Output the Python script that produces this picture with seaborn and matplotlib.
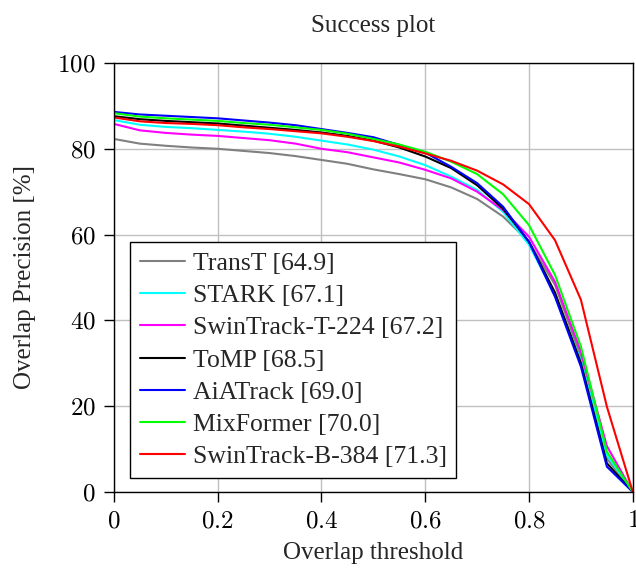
import matplotlib
matplotlib.use("Agg")
import matplotlib.pyplot as plt
import numpy as np
import pandas as pd
import seaborn as sns

thresholds = [0.0, 0.05, 0.1, 0.15, 0.2, 0.25, 0.3, 0.35, 0.4, 0.45, 0.5,
              0.55, 0.6, 0.65, 0.7, 0.75, 0.8, 0.85, 0.9, 0.95, 1.0]

trackers = ["TransT [64.9]", "STARK [67.1]", "SwinTrack-T-224 [67.2]", "ToMP [68.5]",
            "AiATrack [69.0]", "MixFormer [70.0]", "SwinTrack-B-384 [71.3]"]

transt = [82.3, 81.2, 80.7, 80.3, 80.0, 79.5, 79.0, 78.3, 77.4, 76.5, 75.2,
          74.1, 72.9, 71.0, 68.3, 64.2, 58.3, 48.3, 31.5, 7.8, 0]
stark = [86.7, 85.6, 85.1, 84.8, 84.4, 84.0, 83.5, 82.8, 81.9, 81.0, 79.8,
         78.2, 76.2, 73.5, 70.4, 65.3, 57.6, 46.0, 30.5, 8.6, 0]
swin_t = [85.8, 84.3, 83.7, 83.3, 83.0, 82.5, 82.0, 81.2, 80.0, 79.2, 78.0,
          76.8, 75.1, 73.1, 70.0, 65.7, 59.5, 49.0, 32.7, 10.7, 0]
tomp = [87.6, 86.9, 86.5, 86.2, 85.9, 85.4, 84.9, 84.4, 83.8, 83.0, 81.9,
        80.3, 78.2, 75.5, 71.5, 66.0, 58.3, 46.5, 30.0, 6.7, 0]
aiatrack = [88.6, 88.0, 87.7, 87.4, 87.1, 86.6, 86.1, 85.5, 84.6, 83.7, 82.7,
            80.9, 79.1, 75.8, 72.0, 66.5, 58.3, 45.5, 29.2, 5.9, 0]
mixformer = [88.3, 87.5, 87.1, 86.8, 86.5, 86.0, 85.6, 85.0, 84.4, 83.5, 82.3,
             81.0, 79.3, 77.0, 74.1, 69.4, 62.2, 50.6, 33.9, 9.4, 0]
swin_b = [87.3, 86.4, 86.0, 85.8, 85.5, 85.0, 84.6, 84.1, 83.6, 82.8, 81.8,
          80.5, 78.9, 77.2, 74.9, 71.7, 67.1, 58.7, 44.8, 19.9, 0]

xtick_vals = [0, 0.2, 0.4, 0.6, 0.8, 1]
xtick_labels = ["0", "0.2", "0.4", "0.6", "0.8", "1"]
ytick_vals = [0, 20, 40, 60, 80, 100]

colors = ["#808080", "#00ffff", "#ff00ff", "#000000", "#0000ff", "#00ff00", "#ff0000"]

series = [transt, stark, swin_t, tomp, aiatrack, mixformer, swin_b]
df = pd.concat([pd.DataFrame({"Threshold": thresholds, "Precision": s, "Tracker": name})
                for name, s in zip(trackers, series)])

sns.set_style("whitegrid")
plt.rcParams['font.family'] = ['Liberation Serif', 'DejaVu Serif']
plt.rcParams['mathtext.fontset'] = 'cm'

fig = plt.figure(figsize=(6.36, 5.71), dpi=100)
ax = fig.add_axes([0.179, 0.1384, 0.816, 0.7513])

sns.lineplot(data=df, x="Threshold", y="Precision", hue="Tracker", hue_order=trackers,
             palette=colors, linewidth=1.5, ax=ax)

ax.set_xlim(0, 1)
ax.set_ylim(0, 100)
ax.set_xticks(xtick_vals)
ax.set_xticklabels(["$" + t + "$" for t in xtick_labels])
ax.set_yticks(ytick_vals)
ax.set_yticklabels(["$%d$" % v for v in ytick_vals])
ax.grid(True, color="#c0c0c0", linewidth=1.0)
for sp in ax.spines.values():
    sp.set_color("black")
    sp.set_linewidth(1.0)
ax.tick_params(direction="out", length=7, width=1, colors="black", labelsize=18,
               left=True, bottom=True, pad=6)

ax.set_xlabel("Overlap threshold", fontsize=18, labelpad=7)
ax.set_ylabel("Overlap Precision [%]", fontsize=18, labelpad=15)
ax.set_title("Success plot", fontsize=18, pad=22)

leg = ax.legend(loc="lower left", bbox_to_anchor=(0.032, 0.033), borderaxespad=0,
                fontsize=18.5, handlelength=1.76, labelspacing=0.36, handletextpad=0.3,
                fancybox=False, framealpha=1, edgecolor="black", borderpad=0.37)
leg.get_frame().set_linewidth(1.0)

plt.savefig("out.png", dpi=100)
